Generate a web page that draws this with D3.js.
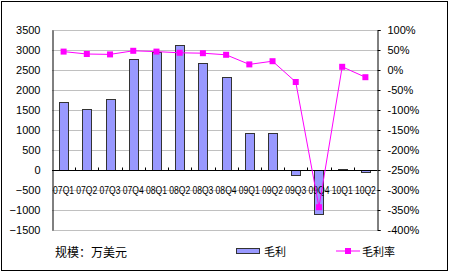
<!DOCTYPE html>
<html>
<head>
<meta charset="utf-8">
<script src="https://cdn.jsdelivr.net/npm/d3@7"></script>
<style>
  body { margin: 0; background: #fff; }
  svg text { font-family: "Liberation Sans", "Noto Sans CJK SC", sans-serif; fill: #000; }
</style>
</head>
<body>
<svg width="450" height="273"></svg>
<script>
// data
var quarters = ["07Q1", "07Q2", "07Q3", "07Q4", "08Q1", "08Q2", "08Q3", "08Q4",
                "09Q1", "09Q2", "09Q3", "09Q4", "10Q1", "10Q2"];
var grossProfit = [1690, 1515, 1765, 2770, 2960, 3120, 2665, 2335,
                   935, 935, -135, -1110, 20, -60];
var grossMargin = [46, 40, 39, 48, 46, 43, 42, 38,
                   14, 22, -30, -343, 8, -18];
var leftTicks = d3.range(-1500, 3501, 500);
var rightTicks = d3.range(-400, 101, 50);

var svg = d3.select("svg");
var plotLeft = 52, plotRight = 377, plotTop = 30, plotBottom = 230;

// outer frame
svg.append("rect")
    .attr("x", 1.5).attr("y", 1.5)
    .attr("width", 446).attr("height", 269)
    .attr("fill", "none").attr("stroke", "#000");

var x = d3.scaleBand().domain(quarters).range([plotLeft, plotRight]);
var y = d3.scaleLinear().domain([-1500, 3500]).range([plotBottom, plotTop]);
var y2 = d3.scaleLinear().domain([-400, 100]).range([plotBottom, plotTop]);

// gridlines
svg.append("g").selectAll("line").data(leftTicks).enter()
    .append("line")
    .attr("x1", plotLeft).attr("x2", plotRight)
    .attr("y1", d => Math.round(y(d)) + 0.5)
    .attr("y2", d => Math.round(y(d)) + 0.5)
    .attr("stroke", "#c0c0c0");

// bars
svg.append("g").selectAll("rect").data(grossProfit).enter()
    .append("rect")
    .attr("x", (d, i) => Math.round(x(quarters[i]) + x.bandwidth() / 2 - 4.5) + 0.5)
    .attr("y", d => Math.round(y(Math.max(0, d))) + 0.5)
    .attr("width", 9)
    .attr("height", d => Math.max(1, Math.abs(Math.round(y(d)) - Math.round(y(0)))))
    .attr("fill", "#9999ff")
    .attr("stroke", "#333");

// axes
var yAxis = d3.axisLeft(y).tickValues(leftTicks).tickFormat(d3.format("d"))
    .tickSize(0).tickPadding(12);
svg.append("g").attr("transform", "translate(" + (plotLeft + 0.5) + ",0)")
    .call(yAxis)
    .call(g => g.select(".domain").attr("stroke", "#000"))
    .call(g => g.selectAll("text").attr("font-size", 11).attr("font-family", null));

var y2Axis = d3.axisRight(y2).tickValues(rightTicks)
    .tickFormat(d => d + "%").tickSize(3).tickPadding(7);
svg.append("g").attr("transform", "translate(" + (plotRight + 0.5) + ",0)")
    .call(y2Axis)
    .call(g => g.select(".domain").attr("stroke", "#000"))
    .call(g => g.selectAll("text").attr("font-size", 11).attr("font-family", null));

// category axis at zero
var zeroY = Math.round(y(0)) + 0.5;
svg.append("line")
    .attr("x1", plotLeft).attr("x2", plotRight)
    .attr("y1", zeroY).attr("y2", zeroY)
    .attr("stroke", "#000");
svg.append("g").selectAll("line").data(quarters.slice(1)).enter()
    .append("line")
    .attr("x1", d => Math.round(x(d)) + 0.5).attr("x2", d => Math.round(x(d)) + 0.5)
    .attr("y1", zeroY - 3).attr("y2", zeroY)
    .attr("stroke", "#000");
svg.append("g").selectAll("text").data(quarters).enter()
    .append("text")
    .attr("x", d => x(d) + x.bandwidth() / 2)
    .attr("y", 194)
    .attr("text-anchor", "middle")
    .attr("font-size", 11)
    .attr("textLength", 21)
    .attr("lengthAdjust", "spacingAndGlyphs")
    .text(d => d);

// margin line
var line = d3.line()
    .x((d, i) => x(quarters[i]) + x.bandwidth() / 2)
    .y(d => y2(d));
svg.append("path").datum(grossMargin)
    .attr("d", line)
    .attr("fill", "none")
    .attr("stroke", "#ff00ff")
    .attr("stroke-width", 1);
svg.append("g").selectAll("rect").data(grossMargin).enter()
    .append("rect")
    .attr("x", (d, i) => x(quarters[i]) + x.bandwidth() / 2 - 3)
    .attr("y", d => y2(d) - 3)
    .attr("width", 6).attr("height", 6)
    .attr("fill", "#ff00ff");

// legend
svg.append("text").attr("x", 55).attr("y", 257)
    .attr("font-size", 12).text("规模：万美元");
svg.append("rect").attr("x", 236.5).attr("y", 248.5)
    .attr("width", 23).attr("height", 5)
    .attr("fill", "#9999ff").attr("stroke", "#333");
svg.append("text").attr("x", 264).attr("y", 256)
    .attr("font-size", 11).text("毛利");
svg.append("line").attr("x1", 336).attr("x2", 360)
    .attr("y1", 251).attr("y2", 251)
    .attr("stroke", "#ff00ff");
svg.append("rect").attr("x", 345).attr("y", 248)
    .attr("width", 6).attr("height", 6).attr("fill", "#ff00ff");
svg.append("text").attr("x", 362).attr("y", 256)
    .attr("font-size", 11).text("毛利率");
</script>
</body>
</html>
